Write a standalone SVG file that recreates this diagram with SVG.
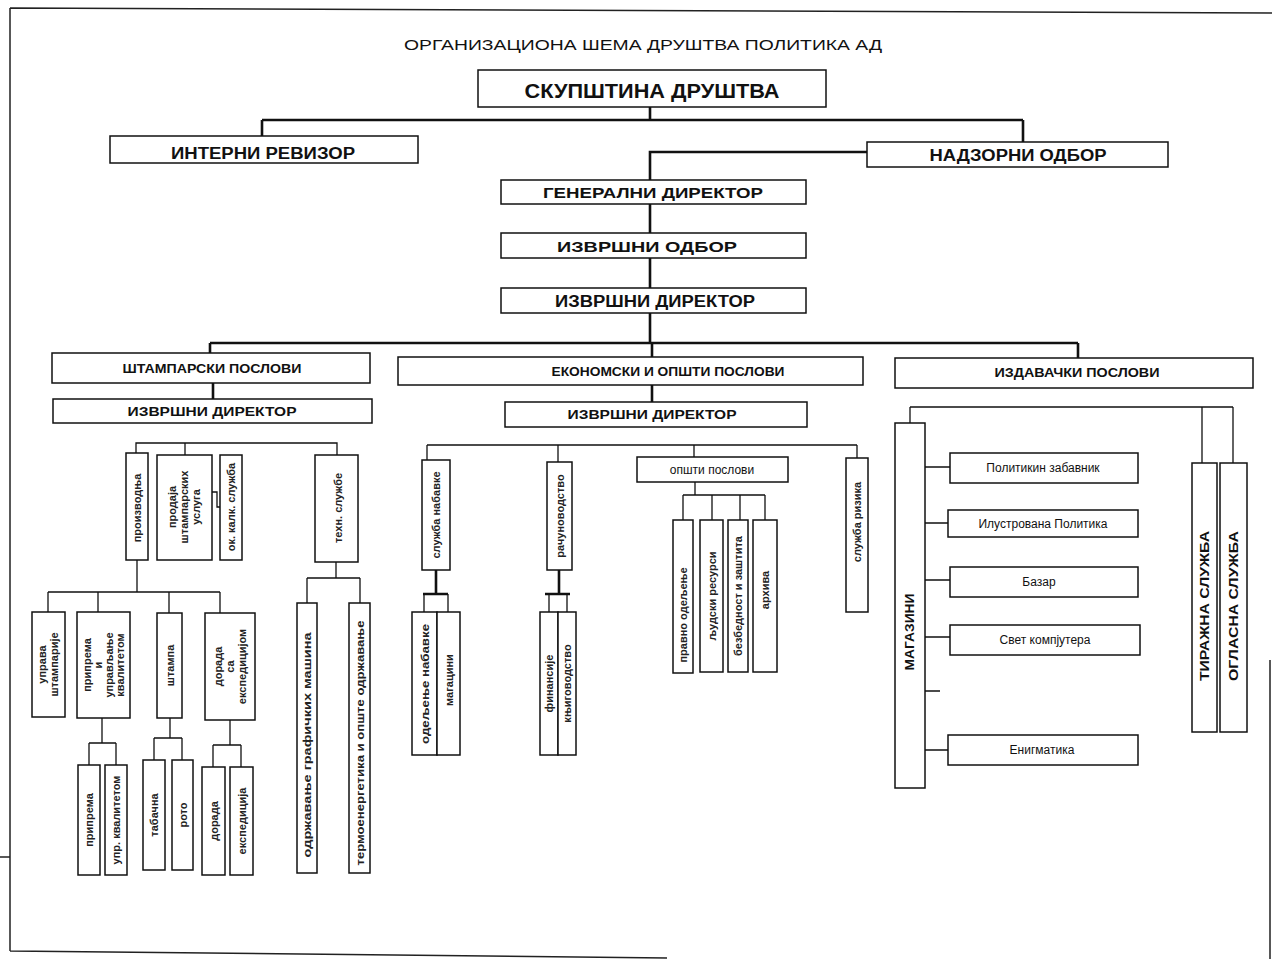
<svg xmlns="http://www.w3.org/2000/svg" width="1272" height="959" viewBox="0 0 1272 959">
<style>
.bx{fill:#fff;stroke:#111;stroke-width:1.5}
.c{fill:none;stroke:#111;stroke-width:1.3}
.ct{fill:none;stroke:#111;stroke-width:2.6}
.fr{fill:none;stroke:#222;stroke-width:1.5}
text{font-family:"Liberation Sans",Arial,sans-serif;fill:#111;text-anchor:middle}
.h{font-weight:bold}
.t{font-size:15px}
.m{font-size:13px}
.s{font-size:12px}
.v{font-size:11px;font-weight:bold;fill:#222}
.vb{font-size:12px;font-weight:bold}
</style>
<rect width="1272" height="959" fill="#fff"/>
<g id="frame">
<path class="fr" d="M10,8 L1272,13 M10,8 V951 M10,951 L667,958 M1270,660 V959 M0,857 H10"/>
</g>
<text id="title" x="643" y="50" class="t" textLength="478" lengthAdjust="spacingAndGlyphs">ОРГАНИЗАЦИОНА ШЕМА ДРУШТВА ПОЛИТИКА АД</text>

<g id="connectors">
<path class="ct" d="M650,107 V120 M262,120 H1023 M262,120 V136 M1023,120 V142 M867,152 H650 V180 M650,204 V233 M650,258 V288 M650,313 V343 M210,343 H1078 M210,343 V353 M652,343 V357 M1078,343 V358 M213,383 V399 M652,385 V402"/>
<path class="c" d="M136,455 V443 H337 V455 M185,443 V455 M208,492 H217 V507 H220"/>
<path class="c" d="M137,560 V592 M48,592 H220 M48,592 V612 M98,592 V612 M169,592 V613 M220,592 V613"/>
<path class="c" d="M102,718 V743 M89,743 H116 M89,743 V765 M116,743 V765"/>
<path class="c" d="M170,718 V738 M154,738 H182 M154,738 V760 M182,738 V760"/>
<path class="c" d="M230,720 V745 M213,745 H241 M213,745 V767 M241,745 V767"/>
<path class="c" d="M336,562 V578 M307,578 H360 M307,578 V603 M360,578 V603"/>
<path class="c" d="M427,445 H857 M427,445 V460 M558,445 V462 M694,445 V457 M857,445 V458"/>
<path class="ct" d="M436,570 V593 M423,594 H448 M559,570 V593 M545,594 H570"/>
<path class="c" d="M424,594 V612 M448,594 V612 M549,594 V612 M567,594 V612"/>
<path class="c" d="M695,482 V495 M683,495 H765 M683,495 V520 M712,495 V520 M740,495 V520 M765,495 V520"/>
<path class="c" d="M910,407 H1233 M910,407 V423 M1202,407 V463 M1233,407 V463"/>
<path class="c" d="M925,467 H950 M925,523 H948 M925,580 H950 M925,637 H950 M925,691 H940 M925,750 H948"/>
</g>

<g id="n-skupstina"><rect class="bx" x="478" y="70" width="348" height="37"/><text x="652" y="98" class="h" font-size="21" textLength="255" lengthAdjust="spacingAndGlyphs">СКУПШТИНА ДРУШТВА</text></g>
<g id="n-interni"><rect class="bx" x="110" y="136" width="308" height="27"/><text x="263" y="159" class="h" font-size="16" textLength="184" lengthAdjust="spacingAndGlyphs">ИНТЕРНИ РЕВИЗОР</text></g>
<g id="n-nadzorni"><rect class="bx" x="867" y="142" width="301" height="25"/><text x="1018" y="161" class="h" font-size="16" textLength="177" lengthAdjust="spacingAndGlyphs">НАДЗОРНИ ОДБОР</text></g>
<g id="n-generalni"><rect class="bx" x="501" y="180" width="305" height="24"/><text x="653" y="198" class="h t" textLength="220" lengthAdjust="spacingAndGlyphs">ГЕНЕРАЛНИ ДИРЕКТОР</text></g>
<g id="n-izvrsniodbor"><rect class="bx" x="501" y="233" width="305" height="25"/><text x="647" y="252" class="h t" textLength="180" lengthAdjust="spacingAndGlyphs">ИЗВРШНИ ОДБОР</text></g>
<g id="n-izvrsnidir"><rect class="bx" x="501" y="288" width="305" height="25"/><text x="655" y="307" class="h" font-size="16" textLength="200" lengthAdjust="spacingAndGlyphs">ИЗВРШНИ ДИРЕКТОР</text></g>

<g id="n-stamparski"><rect class="bx" x="52" y="353" width="318" height="30"/><text x="212" y="373" class="h m" textLength="179" lengthAdjust="spacingAndGlyphs">ШТАМПАРСКИ ПОСЛОВИ</text></g>
<g id="n-ekonomski"><rect class="bx" x="398" y="357" width="465" height="28"/><text x="668" y="376" class="h m" textLength="233" lengthAdjust="spacingAndGlyphs">ЕКОНОМСКИ И ОПШТИ ПОСЛОВИ</text></g>
<g id="n-izdavacki"><rect class="bx" x="895" y="358" width="358" height="30"/><text x="1077" y="377" class="h m" textLength="165" lengthAdjust="spacingAndGlyphs">ИЗДАВАЧКИ ПОСЛОВИ</text></g>
<g id="n-st-dir"><rect class="bx" x="53" y="399" width="319" height="24"/><text x="212" y="416" class="h m" textLength="169" lengthAdjust="spacingAndGlyphs">ИЗВРШНИ ДИРЕКТОР</text></g>
<g id="n-ek-dir"><rect class="bx" x="505" y="402" width="302" height="25"/><text x="652" y="419" class="h m" textLength="169" lengthAdjust="spacingAndGlyphs">ИЗВРШНИ ДИРЕКТОР</text></g>

<g id="n-proizvodnja"><rect class="bx" x="126" y="453" width="22" height="107"/><text class="v" transform="translate(137,508) rotate(-90)" dy="4">производња</text></g>
<g id="n-prodaja"><rect class="bx" x="157" y="455" width="55" height="105"/><text class="v" font-size="10" transform="translate(184.5,507) rotate(-90)"><tspan x="0" dy="-8.5">продаја</tspan><tspan x="0" dy="12">штампарских</tspan><tspan x="0" dy="12">услуга</tspan></text></g>
<g id="n-okkalk"><rect class="bx" x="220" y="455" width="22" height="105"/><text class="v" font-size="10" transform="translate(231,507) rotate(-90)" dy="3.5">ок. калк. служба</text></g>
<g id="n-tehn"><rect class="bx" x="315" y="455" width="43" height="107"/><text class="v" transform="translate(338,508) rotate(-90)" dy="4">техн. службе</text></g>

<g id="n-uprava"><rect class="bx" x="32" y="612" width="33" height="105"/><text class="v" font-size="10.5" transform="translate(48.5,664.5) rotate(-90)"><tspan x="0" dy="-2.5">управа</tspan><tspan x="0" dy="12">штампарије</tspan></text></g>
<g id="n-priprema-uk"><rect class="bx" x="77" y="612" width="53" height="106"/><text class="v" font-size="9.5" transform="translate(103.5,665) rotate(-90)"><tspan x="0" dy="-13">припрема</tspan><tspan x="0" dy="11">и</tspan><tspan x="0" dy="11">управљање</tspan><tspan x="0" dy="11">квалитетом</tspan></text></g>
<g id="n-stampa"><rect class="bx" x="157" y="613" width="25" height="105"/><text class="v" transform="translate(169.5,665.5) rotate(-90)" dy="4">штампа</text></g>
<g id="n-dorada-eksp"><rect class="bx" x="205" y="613" width="50" height="107"/><text class="v" font-size="10" transform="translate(230,666.5) rotate(-90)"><tspan x="0" dy="-8.5">дорада</tspan><tspan x="0" dy="12">са</tspan><tspan x="0" dy="12">експедицијом</tspan></text></g>

<g id="n-priprema"><rect class="bx" x="78" y="765" width="22" height="110"/><text class="v" transform="translate(89,820) rotate(-90)" dy="4">припрема</text></g>
<g id="n-upr-kval"><rect class="bx" x="105" y="765" width="22" height="110"/><text class="v" font-size="10.5" transform="translate(116,820) rotate(-90)" dy="4">упр. квалитетом</text></g>
<g id="n-tabacna"><rect class="bx" x="143" y="760" width="22" height="110"/><text class="v" transform="translate(154,815) rotate(-90)" dy="4">табачна</text></g>
<g id="n-roto"><rect class="bx" x="172" y="760" width="21" height="110"/><text class="v" transform="translate(182.5,815) rotate(-90)" dy="4">рото</text></g>
<g id="n-dorada"><rect class="bx" x="202" y="767" width="23" height="108"/><text class="v" transform="translate(213.5,821) rotate(-90)" dy="4">дорада</text></g>
<g id="n-ekspedicija"><rect class="bx" x="230" y="767" width="23" height="108"/><text class="v" transform="translate(241.5,821) rotate(-90)" dy="4">експедиција</text></g>
<g id="n-odrzavanje"><rect class="bx" x="297" y="603" width="20" height="270"/><text class="v" transform="translate(307,745) rotate(-90)" dy="4" textLength="225" lengthAdjust="spacingAndGlyphs">одржавање графичких машина</text></g>
<g id="n-termo"><rect class="bx" x="349" y="603" width="21" height="270"/><text class="v" transform="translate(359.5,743) rotate(-90)" dy="4" textLength="245" lengthAdjust="spacingAndGlyphs">термоенергетика и опште одржавање</text></g>

<g id="n-nabavka"><rect class="bx" x="422" y="460" width="28" height="110"/><text class="v" transform="translate(436,515) rotate(-90)" dy="4">служба набавке</text></g>
<g id="n-racunovodstvo"><rect class="bx" x="547" y="462" width="25" height="108"/><text class="v" transform="translate(559.5,516) rotate(-90)" dy="4">рачуноводство</text></g>
<g id="n-opsti"><rect class="bx" x="637" y="457" width="151" height="25"/><text x="712" y="474" font-size="12">општи послови</text></g>
<g id="n-rizik"><rect class="bx" x="846" y="458" width="22" height="154"/><text class="v" transform="translate(857,522) rotate(-90)" dy="4">служба ризика</text></g>
<g id="n-odeljenje-nab"><rect class="bx" x="412" y="612" width="25" height="143"/><text class="v" transform="translate(424.5,684) rotate(-90)" dy="4" textLength="120" lengthAdjust="spacingAndGlyphs">одељење набавке</text></g>
<g id="n-magacini"><rect class="bx" x="437" y="612" width="23" height="143"/><text class="v" transform="translate(448.5,680) rotate(-90)" dy="4">магацини</text></g>
<g id="n-finansije"><rect class="bx" x="540" y="612" width="18" height="143"/><text class="v" font-size="10" transform="translate(549,683.5) rotate(-90)" dy="3.5">финансије</text></g>
<g id="n-knjigovodstvo"><rect class="bx" x="558" y="612" width="18" height="143"/><text class="v" font-size="10" transform="translate(567,683.5) rotate(-90)" dy="3.5">књиговодство</text></g>
<g id="n-pravno"><rect class="bx" x="673" y="520" width="20" height="153"/><text class="v" transform="translate(683,615) rotate(-90)" dy="4">правно одељење</text></g>
<g id="n-ljudski"><rect class="bx" x="700" y="520" width="23" height="152"/><text class="v" transform="translate(711.5,596) rotate(-90)" dy="4">људски ресурси</text></g>
<g id="n-bezbednost"><rect class="bx" x="728" y="520" width="20" height="152"/><text class="v" font-size="10.5" transform="translate(738,596) rotate(-90)" dy="4">безбедност и заштита</text></g>
<g id="n-arhiva"><rect class="bx" x="753" y="520" width="24" height="152"/><text class="v" transform="translate(765,590) rotate(-90)" dy="4">архива</text></g>

<g id="n-magazini"><rect class="bx" x="895" y="423" width="30" height="365"/><text class="vb" transform="translate(910,632) rotate(-90)" dy="4" textLength="77" lengthAdjust="spacingAndGlyphs">МАГАЗИНИ</text></g>
<g id="n-zabavnik"><rect class="bx" x="950" y="453" width="188" height="30"/><text x="1043" y="472" class="s">Политикин забавник</text></g>
<g id="n-ilustrovana"><rect class="bx" x="948" y="510" width="190" height="27"/><text x="1043" y="528" class="s">Илустрована Политика</text></g>
<g id="n-bazar"><rect class="bx" x="950" y="567" width="188" height="30"/><text x="1039" y="586" class="s">Базар</text></g>
<g id="n-svet"><rect class="bx" x="950" y="625" width="190" height="30"/><text x="1045" y="644" class="s">Свет компјутера</text></g>
<g id="n-enigmatika"><rect class="bx" x="948" y="735" width="190" height="30"/><text x="1042" y="754" class="s">Енигматика</text></g>
<g id="n-tirazna"><rect class="bx" x="1192" y="463" width="25" height="269"/><text class="vb" font-size="13" transform="translate(1204.5,606) rotate(-90)" dy="4.5" textLength="150" lengthAdjust="spacingAndGlyphs">ТИРАЖНА СЛУЖБА</text></g>
<g id="n-oglasna"><rect class="bx" x="1220" y="463" width="27" height="269"/><text class="vb" font-size="13" transform="translate(1233.5,606) rotate(-90)" dy="4.5" textLength="150" lengthAdjust="spacingAndGlyphs">ОГЛАСНА СЛУЖБА</text></g>
</svg>
